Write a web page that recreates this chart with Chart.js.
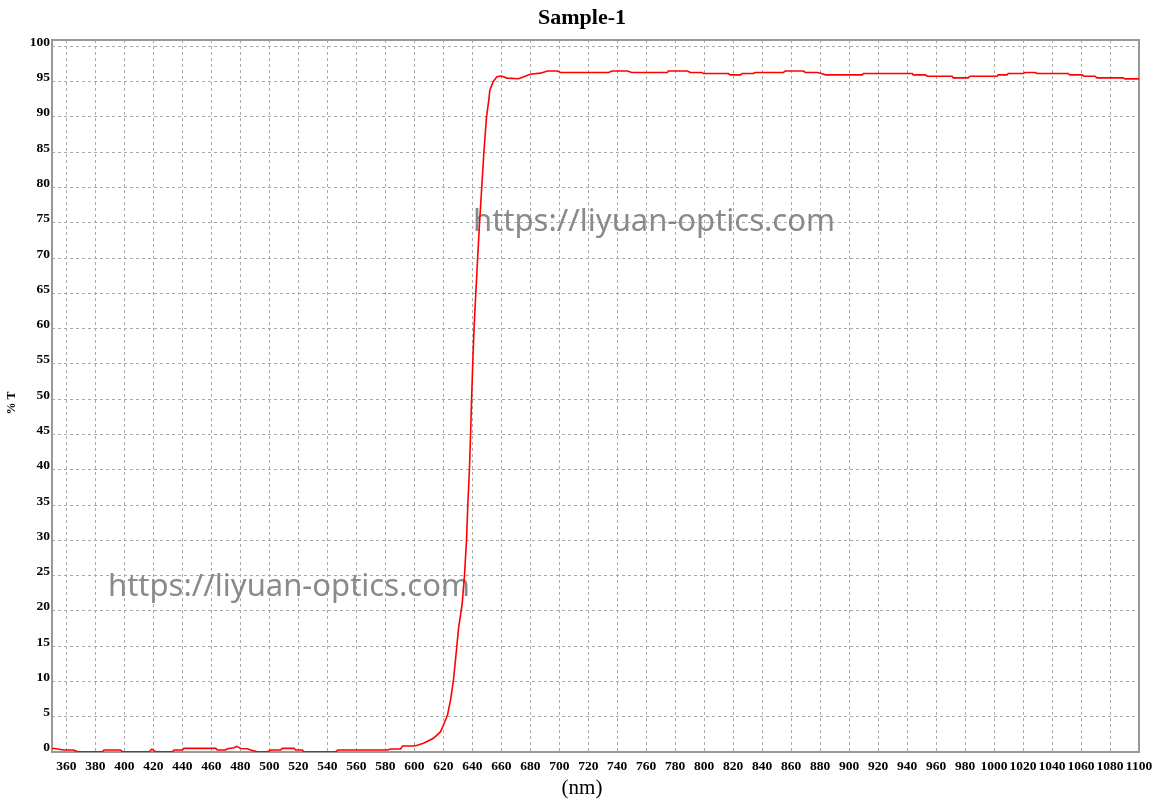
<!DOCTYPE html>
<html>
<head>
<meta charset="utf-8">
<script src="https://cdn.jsdelivr.net/npm/chart.js@4/dist/chart.umd.min.js"></script>
<style>
  html, body { margin: 0; padding: 0; background: #fff; }
  #wrap { width: 1152px; height: 800px; }
</style>
</head>
<body>
<div id="wrap"><canvas id="lineChart"></canvas></div>
<script>
// wavelength (nm) and transmission (%T)
const wavelengths = [
  350, 351.5, 358, 365, 367.6, 384.8, 385.9, 397.4, 398.6, 417, 418.8, 421.6, 433.1, 434.2, 440, 441.1,
  463, 464.1, 469.8, 471, 475.6, 477.4, 480.2, 484.8, 487.1, 491.7, 498.6, 500.9, 507.7, 508.9, 517, 518.1,
  522.7, 523.8, 545.7, 547.3, 581.3, 583.6, 590.5, 591.9, 599.7, 602, 606.3, 613.2, 618.1, 620.1, 622.9,
  625, 627, 629.1, 630.5, 633, 634.6, 636, 636.9, 638, 638.8, 639.5, 640.3, 641.2, 642.4, 643.7, 645,
  646.5, 648, 649.8, 651.4, 652.1, 654.4, 657, 660, 664, 672, 675.5, 680, 687, 692, 698.5, 701, 734,
  736.4, 747, 750, 774.6, 775.2, 788.4, 790.4, 798.7, 799.4, 816.6, 818, 824.9, 826.3, 833.9, 835.2,
  854.6, 856, 868.4, 869.8, 878.1, 881, 883.6, 909.1, 909.8, 943.6, 944.2, 952.5, 953.8, 971.1, 971.8,
  982.1, 983.5, 1002.1, 1002.8, 1009, 1009.7, 1020, 1021.4, 1028.3, 1029.7, 1051, 1052.4, 1060.7, 1062,
  1069.6, 1071, 1089, 1090.4, 1100
];
const transmission = [
  0.5, 0.5, 0.28, 0.28, 0.04, 0.04, 0.28, 0.28, 0.04, 0.04, 0.4, 0.04, 0.04, 0.28, 0.28, 0.52,
  0.52, 0.28, 0.28, 0.45, 0.6, 0.8, 0.5, 0.45, 0.28, 0.04, 0.04, 0.28, 0.28, 0.52, 0.52, 0.28,
  0.28, 0.04, 0.04, 0.28, 0.28, 0.43, 0.43, 0.85, 0.85, 0.95, 1.23, 1.94, 2.88, 3.83, 5.24,
  7.4, 10.2, 14.5, 17.5, 21, 25, 30, 35, 40, 45, 50, 55, 60, 65, 70, 75,
  80, 85, 90, 92.4, 93.8, 95.0, 95.7, 95.8, 95.5, 95.4, 95.7, 96.05, 96.2, 96.5, 96.5, 96.3, 96.3,
  96.5, 96.5, 96.3, 96.3, 96.5, 96.5, 96.3, 96.3, 96.15, 96.15, 95.96, 95.96, 96.15, 96.15, 96.3,
  96.3, 96.5, 96.5, 96.3, 96.3, 96.15, 95.96, 95.96, 96.15, 96.15, 95.96, 95.96, 95.77, 95.77, 95.53,
  95.53, 95.77, 95.77, 95.96, 95.96, 96.15, 96.15, 96.3, 96.3, 96.15, 96.15, 95.96, 95.96, 95.77,
  95.77, 95.53, 95.53, 95.39, 95.39
];
const xTicks = [360, 380, 400, 420, 440, 460, 480, 500, 520, 540, 560, 580, 600, 620, 640, 660, 680, 700,
  720, 740, 760, 780, 800, 820, 840, 860, 880, 900, 920, 940, 960, 980, 1000, 1020, 1040, 1060, 1080, 1100];
const yTicks = [0, 5, 10, 15, 20, 25, 30, 35, 40, 45, 50, 55, 60, 65, 70, 75, 80, 85, 90, 95, 100];
const watermark = 'https://liyuan-optics.com';

const tickFont = { family: '"Liberation Serif", "Times New Roman", serif', size: 13.5, weight: 'bold' };

// frame, watermark, title and axis titles
const decor = {
  id: 'decor',
  beforeDatasetsDraw(chart) {
    const { ctx, chartArea: a } = chart;
    ctx.save();
    ctx.strokeStyle = '#999';
    ctx.lineWidth = 2;
    ctx.strokeRect(a.left, a.top, a.right - a.left, a.bottom - a.top);
    ctx.fillStyle = 'rgba(125,125,125,0.9)';
    ctx.font = '31px "Noto Sans"';
    ctx.textBaseline = 'alphabetic';
    ctx.fillText(watermark, 473, 231);
    ctx.fillText(watermark, 108, 596);
    ctx.restore();
  },
  afterDraw(chart) {
    const { ctx } = chart;
    ctx.save();
    ctx.fillStyle = '#000';
    ctx.textAlign = 'center';
    ctx.textBaseline = 'middle';
    ctx.font = 'bold 22px "Liberation Serif"';
    ctx.fillText('Sample-1', 582, 18);
    ctx.font = '21px "Liberation Serif"';
    ctx.fillText('(nm)', 582, 788);
    ctx.translate(12, 403);
    ctx.rotate(-Math.PI / 2);
    ctx.font = 'bold 12px "Liberation Serif"';
    ctx.fillText('% T', 0, 0);
    ctx.restore();
  }
};

new Chart(document.getElementById('lineChart'), {
  type: 'line',
  data: {
    datasets: [{
      label: 'Sample-1',
      data: wavelengths.map((w, i) => ({ x: w, y: transmission[i] })),
      borderColor: '#ff0000',
      borderWidth: 1.6,
      pointRadius: 0,
      tension: 0,
      fill: false
    }]
  },
  options: {
    responsive: true,
    maintainAspectRatio: false,
    animation: false,
    layout: { padding: { top: 40, right: 13, left: 0, bottom: 0 } },
    plugins: {
      legend: { display: false },
      tooltip: { enabled: false }
    },
    scales: {
      x: {
        type: 'linear',
        min: 350,
        max: 1100,
        afterBuildTicks: s => { s.ticks = xTicks.map(v => ({ value: v })); },
        afterFit: s => { s.height = 48; s.paddingLeft = 0; s.paddingRight = 0; },
        ticks: {
          font: tickFont, color: '#000', padding: 6, maxRotation: 0, autoSkip: false,
          callback: v => String(v)
        },
        grid: { color: '#aaa', lineWidth: 1, drawTicks: false },
        border: { display: false, dash: [3, 3] }
      },
      y: {
        min: 0,
        max: 100.9,
        afterBuildTicks: s => { s.ticks = yTicks.map(v => ({ value: v })); },
        afterFit: s => { s.width = 52; s.paddingTop = 0; s.paddingBottom = 0; },
        ticks: {
          font: tickFont, color: '#000', padding: 2, labelOffset: -4, autoSkip: false,
          callback: v => String(v)
        },
        grid: { color: '#aaa', lineWidth: 1, drawTicks: false },
        border: { display: false, dash: [3, 3] }
      }
    }
  },
  plugins: [decor]
});
</script>
</body>
</html>
